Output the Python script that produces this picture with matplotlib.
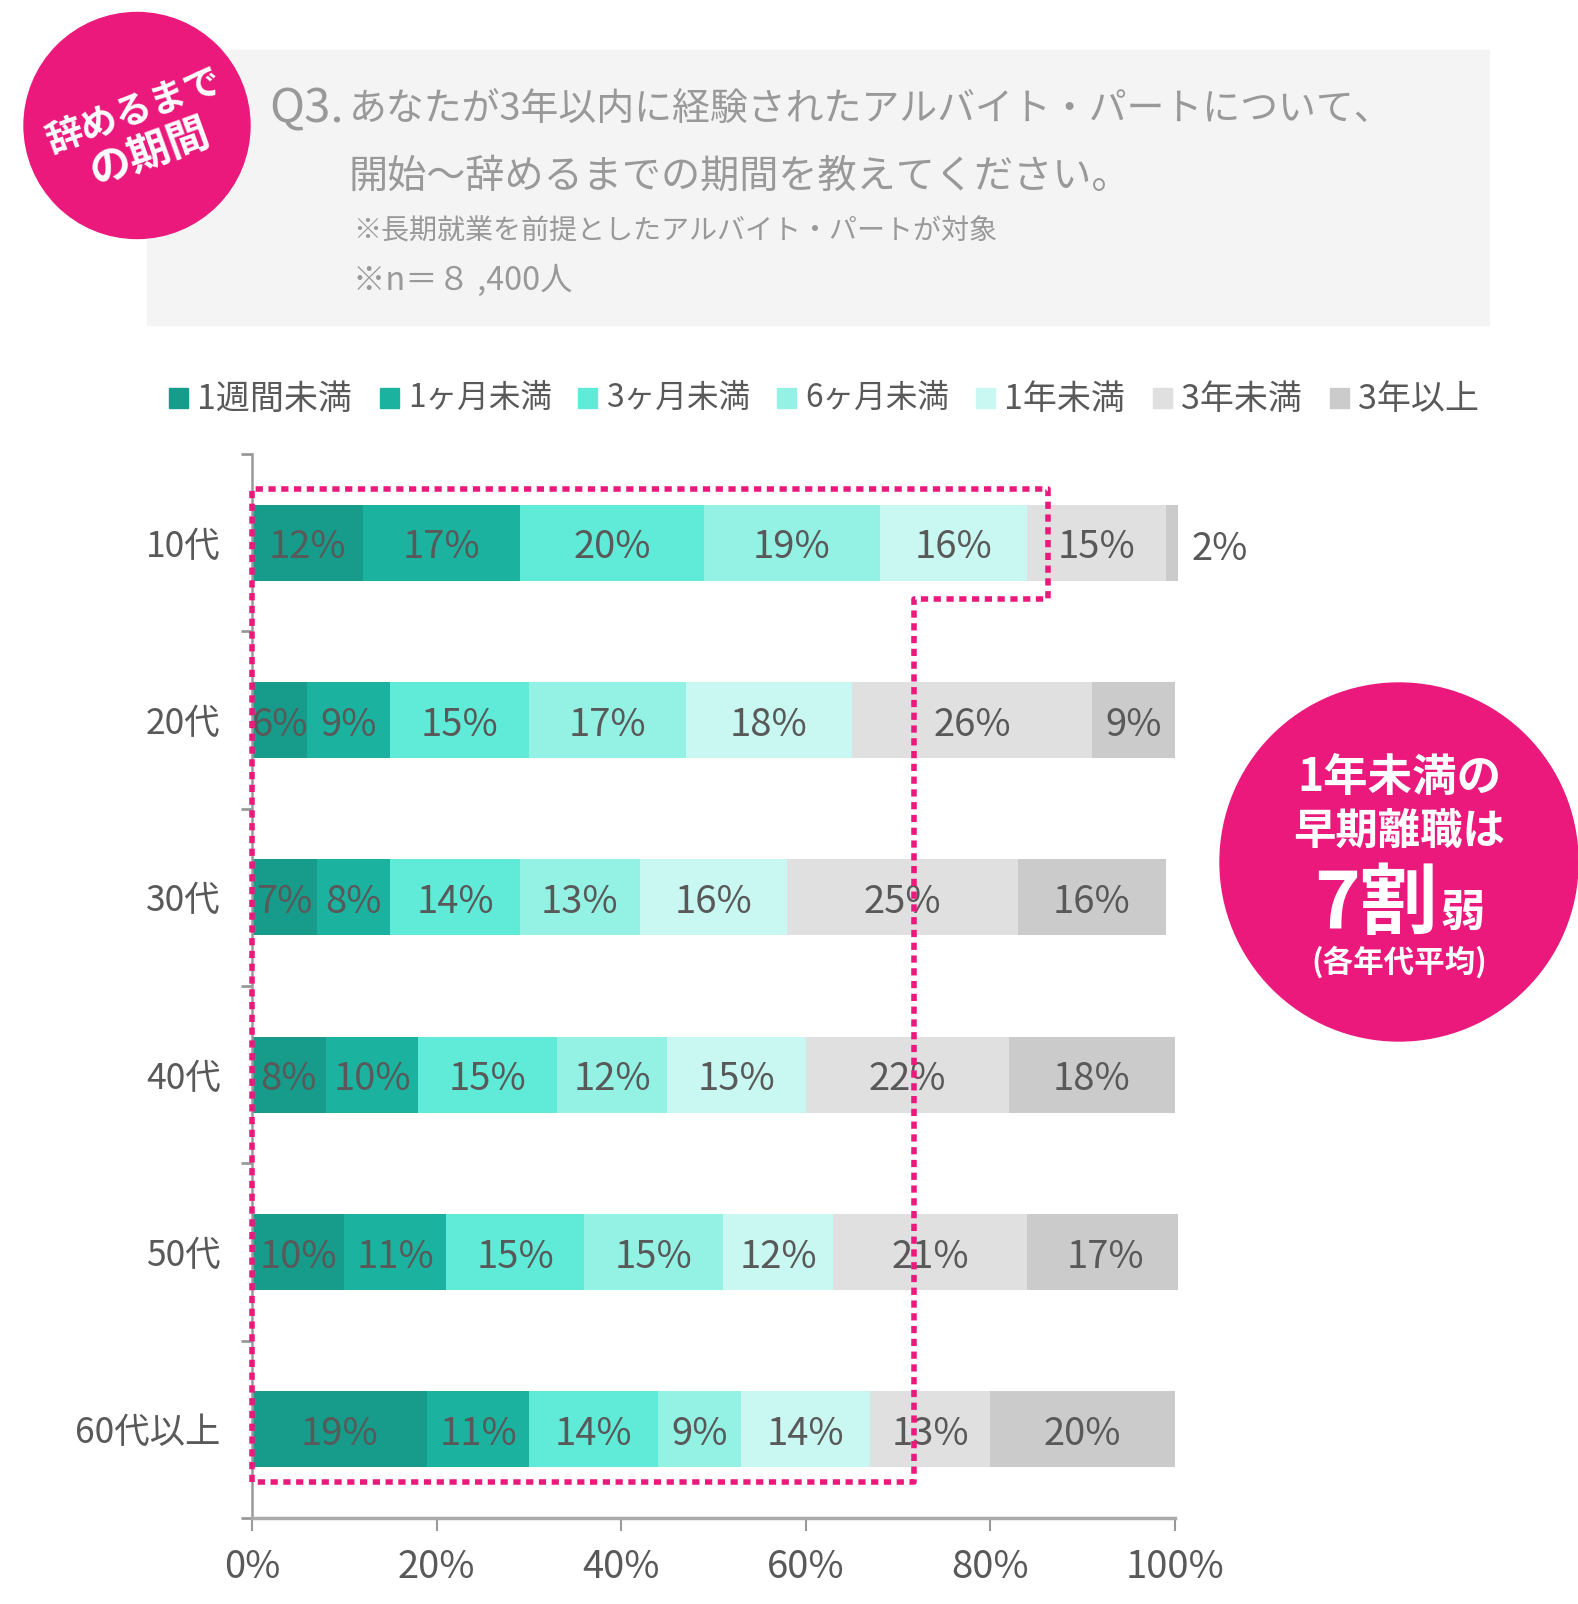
import matplotlib
matplotlib.use("Agg")
import matplotlib.pyplot as plt
from matplotlib.patches import Circle, Rectangle

plt.rcParams['font.family'] = ['Noto Sans CJK JP', 'DejaVu Sans']

W, H = 1578, 1604
PINK = "#EB197C"
TEXT = "#595959"
GREY = "#999999"

ages = ["10代", "20代", "30代", "40代", "50代", "60代以上"]
periods = ["1週間未満", "1ヶ月未満", "3ヶ月未満", "6ヶ月未満", "1年未満", "3年未満", "3年以上"]
colors = ["#179B8A", "#1BB3A0", "#5FEBD8", "#94F2E4", "#C9F7F1", "#E0E0E0", "#CBCBCB"]

under_1w = [12, 6, 7, 8, 10, 19]
under_1m = [17, 9, 8, 10, 11, 11]
under_3m = [20, 15, 14, 15, 15, 14]
under_6m = [19, 17, 13, 12, 15, 9]
under_1y = [16, 18, 16, 15, 12, 14]
under_3y = [15, 26, 25, 22, 21, 13]
over_3y = [2, 9, 16, 18, 17, 20]
series = [under_1w, under_1m, under_3m, under_6m, under_1y, under_3y, over_3y]

xticks = [0, 20, 40, 60, 80, 100]

# axis box in pixels
left, right = 252, 1178
top, bottom = 454, 1518

fig = plt.figure(figsize=(W / 100, H / 100), dpi=100)
ax = fig.add_axes([left / W, 1 - bottom / H, (right - left) / W, (bottom - top) / H])
ax.set_xlim(0, 100.33)
ax.set_ylim(5.5, -0.5)

starts = [0] * len(ages)
for vals, col in zip(series, colors):
    ax.barh(range(len(ages)), vals, left=starts, height=0.43, color=col)
    for i, v in enumerate(vals):
        if v == 2:
            # too small for the bar, sits outside
            ax.annotate(f"{v}%", (100.33, i), xytext=(42, -7), textcoords="offset pixels",
                        ha="center", va="center", fontsize=27.5, color=TEXT, annotation_clip=False)
        else:
            # nudged down a little, the CJK font centres high
            ax.annotate(f"{v}%", (starts[i] + v / 2, i), xytext=(0, -5), textcoords="offset pixels",
                        ha="center", va="center", fontsize=27.5, color=TEXT)
    starts = [s + v for s, v in zip(starts, vals)]

for side in ["top", "right"]:
    ax.spines[side].set_visible(False)
ax.spines["left"].set_color(GREY)
ax.spines["left"].set_linewidth(1.8)
ax.spines["bottom"].set_color("#AAAAAA")
ax.spines["bottom"].set_linewidth(2.5)
ax.spines["bottom"].set_bounds(0, 100)

ax.set_xticks(xticks)
ax.set_xticklabels([f"{x}%" for x in xticks], fontsize=27.5, color=TEXT)
ax.tick_params(axis="x", length=9, width=1.5, color=GREY, pad=12.5)
ax.set_yticks(range(len(ages)))
ax.set_yticklabels(ages, fontsize=25.5, color=TEXT)
ax.tick_params(axis="y", which="major", length=0, pad=22.5)
ax.set_yticks([i - 0.5 for i in range(len(ages) + 1)], minor=True)
ax.tick_params(axis="y", which="minor", length=8, width=2, color=GREY)

# overlay in pixel coords for the slide decorations
deco = fig.add_axes([0, 0, 1, 1], zorder=5)
deco.set_xlim(0, W)
deco.set_ylim(H, 0)
deco.axis("off")

deco.add_patch(Rectangle((147, 50), 1342, 275, color="#F4F4F4", zorder=0))
deco.add_patch(Circle((137, 125.5), 113, color=PINK, zorder=1))
deco.add_patch(Circle((1399, 862), 179, color=PINK, zorder=1))

deco.text(269, 109, "Q3.", fontsize=34, color=GREY, va="center")
deco.text(349, 109, "あなたが3年以内に経験されたアルバイト・パートについて、", fontsize=27.3, color=GREY, va="center")
deco.text(349, 177, "開始～辞めるまでの期間を教えてください。", fontsize=28.2, color=GREY, va="center")
deco.text(353, 232, "※長期就業を前提としたアルバイト・パートが対象", fontsize=20.2, color=GREY, va="center")
deco.text(353, 281, "※n＝８ ,400人", fontsize=23.3, color=GREY, va="center")

deco.text(134, 112, "辞めるまで", fontsize=26.5, color="white", weight="bold", rotation=20, ha="center", va="center")
deco.text(149, 152, "の期間", fontsize=30, color="white", weight="bold", rotation=20, ha="center", va="center")

deco.text(1399, 778, "1年未満の", fontsize=32, color="white", weight="bold", ha="center", va="center")
deco.text(1399, 832, "早期離職は", fontsize=30.5, color="white", weight="bold", ha="center", va="center")
deco.text(1314, 928, "7割", fontsize=56, color="white", weight="bold", ha="left", va="baseline")
deco.text(1440, 926, "弱", fontsize=32, color="white", weight="bold", ha="left", va="baseline")
deco.text(1399, 962, "(各年代平均)", fontsize=22, color="white", weight="bold", ha="center", va="center")

# legend, placed by hand like the slide
swatch_x = [169, 380, 578, 777, 976, 1153, 1330]
legend_size = [24.5, 22.8, 22.8, 22.8, 24.5, 24.5, 24.5]
for name, col, sx, fs in zip(periods, colors, swatch_x, legend_size):
    deco.add_patch(Rectangle((sx, 388), 19, 20, color=col))
    deco.text(sx + 28, 399, name, fontsize=fs, color=TEXT, va="center")

# dotted frame around the under-1-year share
frame_x = [252, 252, 1048, 1048, 914, 914, 252]
frame_y = [1482, 489, 489, 599, 599, 1482, 1482]
deco.plot(frame_x, frame_y, color=PINK, lw=4, linestyle=(0, (1.3, 1.0)), solid_capstyle="butt", zorder=3)

fig.savefig("out.png", dpi=100)
